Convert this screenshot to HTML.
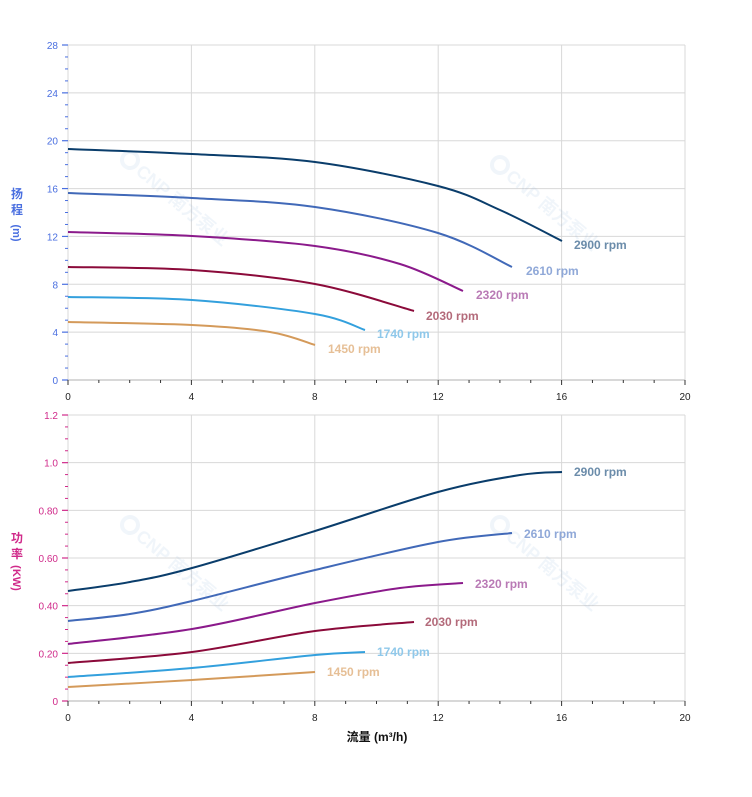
<!DOCTYPE html>
<html><head><meta charset="utf-8"><style>
html,body{margin:0;padding:0;background:#fff;width:752px;height:797px;overflow:hidden}
svg text{font-family:"Liberation Sans","Noto Sans CJK SC",sans-serif}
</style></head><body>
<svg id="s" width="752" height="797" xmlns="http://www.w3.org/2000/svg"></svg>
<script>
const s=document.getElementById('s');let h='';
function xp(v){return 68+v*617/20;}
function ax(y0,y1,nMaj,labels,col){
 for(let i=0;i<=5;i++){let x=xp(i*4);h+=`<line x1="${x}" y1="${y1}" x2="${x}" y2="${y0}" stroke="#d8d8d8" stroke-width="1"/>`;}
 for(let i=0;i<=nMaj;i++){let y=y0-(y0-y1)*i/nMaj;h+=`<line x1="68" y1="${y}" x2="685" y2="${y}" stroke="#d8d8d8" stroke-width="1"/>`;
  h+=`<line x1="62" y1="${y}" x2="68" y2="${y}" stroke="${col}" stroke-width="1.2"/>`;
  h+=`<text x="58" y="${y+4}" font-size="10" fill="${col}" text-anchor="end">${labels[i]}</text>`;
  if(i<nMaj)for(let k=1;k<4;k++){let yy=y-(y0-y1)/nMaj*k/4;h+=`<line x1="65" y1="${yy}" x2="68" y2="${yy}" stroke="${col}" stroke-width="1"/>`;}
 }
 h+=`<line x1="68" y1="${y0}" x2="685" y2="${y0}" stroke="#ccc" stroke-width="1.5"/>`;
 for(let i=0;i<=20;i++){let x=xp(i);h+=`<line x1="${x}" y1="${y0}" x2="${x}" y2="${y0+(i%4==0?5:3)}" stroke="#333" stroke-width="1"/>`;
  if(i%4==0)h+=`<text x="${x}" y="${y0+20}" font-size="10" fill="#222" text-anchor="middle">${i}</text>`;}
}
function wm(x,y){h+=`<g transform="translate(${x},${y}) rotate(40)" opacity="0.1" fill="#7aa7d8"><circle cx="0" cy="0" r="8" fill="none" stroke="#7aa7d8" stroke-width="4"/><text x="12" y="7" font-size="18" font-weight="bold">CNP 南方泵业</text></g>`;}
function curve(p,c){let d=`M${p[0][0]},${p[0][1]}`;for(let i=0;i<p.length-1;i++){let a=p[i-1]||p[i],b=p[i],c2=p[i+1],e=p[i+2]||c2;
 d+=` C${b[0]+(c2[0]-a[0])/6},${b[1]+(c2[1]-a[1])/6} ${c2[0]-(e[0]-b[0])/6},${c2[1]-(e[1]-b[1])/6} ${c2[0]},${c2[1]}`;}
 h+=`<path d="${d}" fill="none" stroke="${c}" stroke-width="2"/>`;}
function lab(x,y,t,c){h+=`<text x="${x}" y="${y}" font-size="12" font-weight="bold" fill="${c}">${t}</text>`;}
ax(380,45,7,[0,4,8,12,16,20,24,28],'#4a6fe0');
ax(701,415,6,['0','0.20','0.40','0.60','0.80','1.0','1.2'],'#d02a8a');
wm(130,160);wm(500,165);wm(130,525);wm(500,525);
const C=['#0a3d6b','#4169b8','#8b1a8b','#8b0a3a','#33a0dd','#d49a5a'];
const L=['#6b8caa','#8fa8d8','#b97ab5','#b36a7a','#8fc8ea','#e6bf96'];
const T=[[[68,149],[192,154],[315,162],[438,186],[500,210],[562,241]],
[[68,193],[192,198],[315,207],[438,233],[512,267]],
[[68,232],[192,236],[315,246],[400,264],[463,291]],
[[68,267],[192,270],[315,284],[414,311]],
[[68,297],[192,300],[315,314],[365,330]],
[[68,322],[192,325],[270,332],[315,345]]];
const B=[[[68,591],[130,582],[192,568],[315,531],[438,492],[520,475],[562,472]],
[[68,621],[130,614],[192,601],[315,570],[438,542],[512,533]],
[[68,644],[192,629],[315,603],[400,588],[463,583]],
[[68,663],[192,652],[315,631],[414,622]],
[[68,677],[192,668],[315,655],[365,652]],
[[68,687],[192,680],[315,672]]];
const LT=[[574,249],[526,275],[476,299],[426,320],[377,338],[328,353]];
const LB=[[574,476],[524,538],[475,588],[425,626],[377,656],[327,676]];
const R=['2900 rpm','2610 rpm','2320 rpm','2030 rpm','1740 rpm','1450 rpm'];
for(let i=0;i<6;i++){curve(T[i],C[i]);curve(B[i],C[i]);lab(LT[i][0],LT[i][1],R[i],L[i]);lab(LB[i][0],LB[i][1],R[i],L[i]);}
h+=`<text x="17" y="198" font-size="12" font-weight="bold" fill="#4a6fe0" text-anchor="middle">扬</text><text x="17" y="214" font-size="12" font-weight="bold" fill="#4a6fe0" text-anchor="middle">程</text><text transform="translate(13,233) rotate(90)" font-size="11" font-weight="bold" fill="#4a6fe0" text-anchor="middle">(m)</text>`;
h+=`<text x="17" y="542" font-size="12" font-weight="bold" fill="#d02a8a" text-anchor="middle">功</text><text x="17" y="558" font-size="12" font-weight="bold" fill="#d02a8a" text-anchor="middle">率</text><text transform="translate(13,578) rotate(90)" font-size="11" font-weight="bold" fill="#d02a8a" text-anchor="middle">(KW)</text>`;
h+=`<text x="377" y="741" font-size="12" font-weight="bold" fill="#111" text-anchor="middle">流量 (m³/h)</text>`;
s.innerHTML=h;
</script>
</body></html>
